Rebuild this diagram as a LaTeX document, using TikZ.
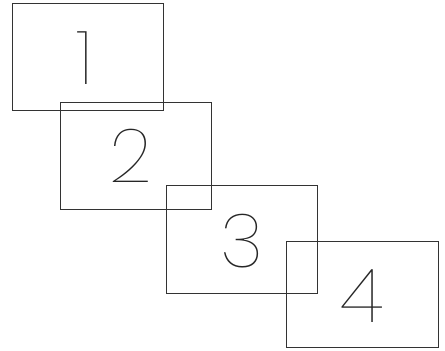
\documentclass[tikz,border=0pt]{standalone}
\usepackage{fontspec}
\newfontfamily\thinfont{Poppins}[UprightFont={* Thin}]
\begin{document}
\begin{tikzpicture}[x=1pt,y=-1pt,
  card/.style={draw=black!80,line width=1pt},
  num/.style={font=\thinfont\fontsize{75}{75}\selectfont,text=black!85,inner sep=0pt}]
\useasboundingbox (0,0) rectangle (445,351);
\draw[card] (12,3) rectangle (163,110);
\draw[card] (60,102) rectangle (211,209);
\draw[card] (166,185) rectangle (317,293);
\draw[card] (286,241) rectangle (438,347);
\node[num] (n1) at (85,58) {1};
\node[num] (n2) at (131,156) {2};
\node[num] (n3) at (242,241) {3};
\node[num] (n4) at (362,296) {4};
\end{tikzpicture}
\end{document}
